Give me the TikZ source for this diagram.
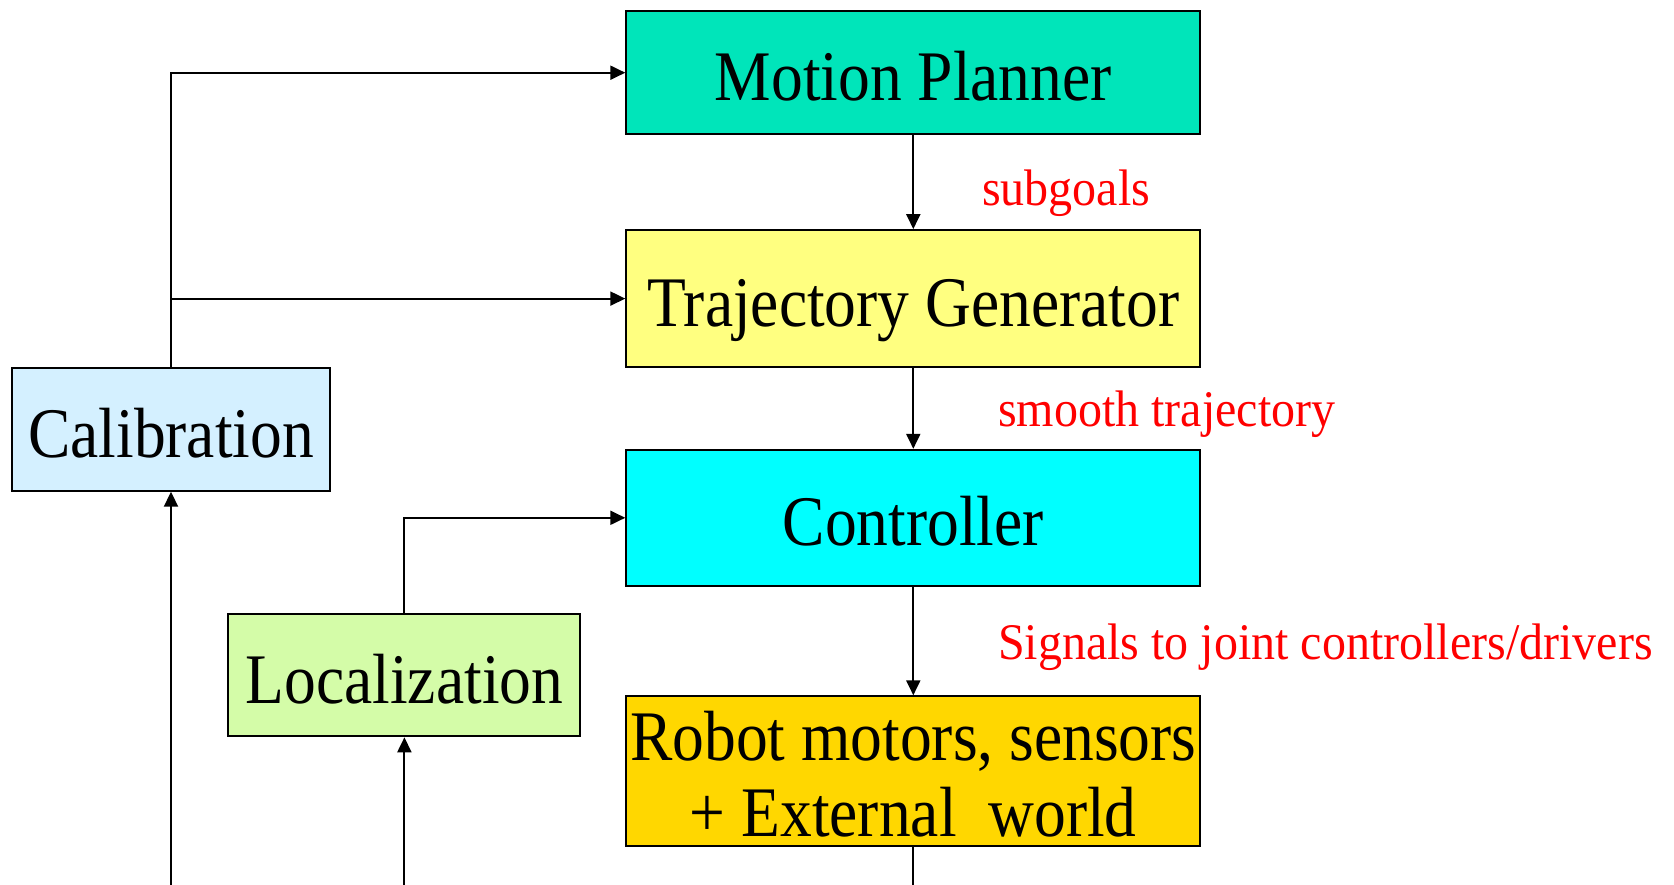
\documentclass[tikz,border=0pt]{standalone}
\usepackage{fontspec}
\setmainfont{Liberation Serif}
\usetikzlibrary{arrows.meta}

\definecolor{plannerfill}{RGB}{0,229,186}
\definecolor{trajfill}{RGB}{255,255,128}
\definecolor{ctrlfill}{RGB}{0,255,255}
\definecolor{robotfill}{RGB}{255,215,0}
\definecolor{calibfill}{RGB}{212,240,255}
\definecolor{locfill}{RGB}{212,252,168}
\definecolor{labelred}{RGB}{255,0,0}

% slightly taller lettering
\newcommand{\bigtxt}[1]{\scalebox{1}[1.12]{#1}}
\newcommand{\smalltxt}[1]{\scalebox{1}[1.07]{#1}}

\begin{document}
\begin{tikzpicture}[x=1pt,y=-1pt,
  block/.style={draw=black, line width=2pt, rectangle, inner sep=0pt,
    font=\fontsize{63.5}{76}\selectfont, text height=56pt, text depth=0pt},
  flow/.style={draw=black, line width=2pt, -{Triangle[length=15pt,width=14pt]}},
  wire/.style={draw=black, line width=2pt},
  note/.style={text=labelred, font=\fontsize{48}{58}\selectfont,
    anchor=base west, inner sep=0pt}]
\useasboundingbox (0,0) rectangle (1674,885);

% main processing chain
\node[block, fill=plannerfill, minimum width=574pt, minimum height=123pt]
  (planner) at (913.3,72.7) {\bigtxt{Motion Planner}};
\node[block, fill=trajfill, minimum width=574pt, minimum height=137pt]
  (traj) at (913.3,298.6) {\bigtxt{Trajectory Generator}};
\node[block, fill=ctrlfill, minimum width=574pt, minimum height=136pt]
  (ctrl) at (913.3,517.8) {\bigtxt{Controller}};
\node[block, fill=robotfill, minimum width=574pt, minimum height=150pt,
  align=center, text height=130pt, text depth=0pt]
  (robot) at (913.3,771.3) {\bigtxt{Robot motors, sensors}\\\bigtxt{+ External\ \ world}};

% side modules
\node[block, fill=calibfill, minimum width=318pt, minimum height=123pt]
  (calib) at (171,429.2) {\bigtxt{Calibration}};
\node[block, fill=locfill, minimum width=352pt, minimum height=122pt]
  (loc) at (404.4,675.3) {\bigtxt{Localization}};

% loose ends at the lower edge
\coordinate (calIn) at (171,885);
\coordinate (locIn) at (404.4,885);
\coordinate (robotOut) at (913.3,885);

% connectors
\draw[flow] (planner.south) -- (traj.north);
\draw[flow] (traj.south) -- (ctrl.north);
\draw[flow] (ctrl.south) -- (robot.north);
\draw[wire] (robot.south) -- (robotOut);
\draw[flow] (calib.north) |- (planner.west);
\draw[flow] (calib.north) |- (traj.west);
\draw[flow] (loc.north) |- (ctrl.west);
\draw[flow] (calIn) -- (calib.south);
\draw[flow] (locIn) -- (loc.south);

% signal labels
\node[note] (lblA) at (982,205.7) {\smalltxt{subgoals}};
\node[note] (lblB) at (998,426.7) {\smalltxt{smooth trajectory}};
\node[note] (lblC) at (998,659) {\smalltxt{Signals to joint controllers/drivers}};
\end{tikzpicture}
\end{document}
